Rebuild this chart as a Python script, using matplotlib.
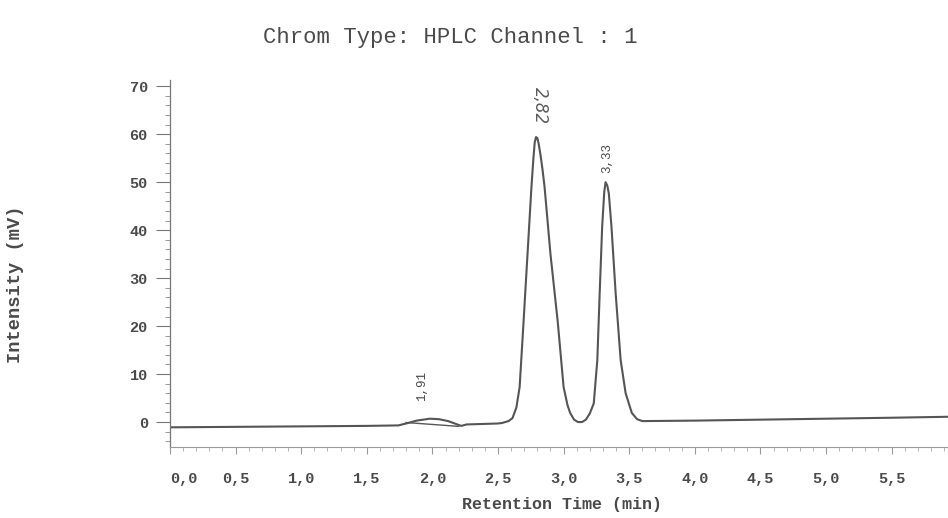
import matplotlib
matplotlib.use("Agg")
import matplotlib.pyplot as plt
from matplotlib.ticker import MultipleLocator, FuncFormatter

# trace: retention time (min) and intensity (mV)
time_min = [0.00, 0.50, 1.00, 1.50, 1.74, 1.80, 1.88, 1.98, 2.05, 2.12, 2.18, 2.22, 2.26,
            2.50, 2.53, 2.58, 2.61, 2.64, 2.665, 2.695, 2.725, 2.755, 2.77, 2.78, 2.79,
            2.80, 2.81, 2.825, 2.84, 2.855, 2.90, 2.955, 3.00, 3.03, 3.05, 3.08, 3.11,
            3.14, 3.17, 3.20, 3.23, 3.257, 3.275, 3.294, 3.31, 3.32, 3.333, 3.345, 3.365,
            3.397, 3.435, 3.473, 3.52, 3.56, 3.60, 4.00, 4.50, 5.00, 5.50, 5.93]
intensity = [-1.1, -1.0, -0.9, -0.8, -0.7, -0.3, 0.3, 0.7, 0.6, 0.2, -0.4, -0.8, -0.5,
             -0.3, -0.2, 0.2, 0.8, 3.0, 7.3, 21.0, 35.0, 49.0, 55.0, 58.3, 59.4,
             59.2, 58.0, 55.5, 52.5, 49.0, 35.0, 21.0, 7.3, 3.5, 1.9, 0.5, 0.0,
             0.0, 0.5, 1.8, 3.9, 12.9, 26.8, 40.7, 48.0, 50.0, 49.3, 47.6, 40.7,
             26.8, 12.9, 6.0, 1.9, 0.6, 0.2, 0.3, 0.5, 0.7, 0.9, 1.1]

# integration line under the small peak
drop_t = [1.80, 2.20]
drop_i = [-0.1, -0.9]

# peak labels
peak_labels = ["1,91", "3,33"]
peak_t = [1.92, 3.33]
peak_y = [7.5, 55.0]
hand_label = "2,82"
hand_t = 2.82
hand_y = 66.0

x_ticks = [0.0, 0.5, 1.0, 1.5, 2.0, 2.5, 3.0, 3.5, 4.0, 4.5, 5.0, 5.5]
y_ticks = [0, 10, 20, 30, 40, 50, 60, 70]

ink = "#4a4a4a"
mono = "Liberation Mono"

fig = plt.figure(figsize=(9.48, 5.18), dpi=100)
ax = fig.add_axes([170 / 948, 71 / 518, 1 - 170 / 948, 367 / 518])

ax.plot(time_min, intensity, color="#555555", lw=1.5, solid_joinstyle="round")
ax.plot(drop_t, drop_i, color="#555555", lw=1.0)

for lab, t, y in zip(peak_labels, peak_t, peak_y):
    ax.text(t, y, lab, rotation=90, ha="center", va="center", fontsize=9,
            family=mono, color=ink)
ax.text(hand_t, hand_y, hand_label, rotation=-90, ha="center", va="center",
        fontsize=12, family="DejaVu Sans", style="italic", color="#5a5a5a")

ax.set_xlim(0, 5.93)
ax.set_ylim(-5.2, 71.3)

ax.xaxis.set_minor_locator(MultipleLocator(0.1))
ax.yaxis.set_minor_locator(MultipleLocator(2))
ax.set_xticks(x_ticks)
ax.set_yticks(y_ticks)
ax.xaxis.set_major_formatter(FuncFormatter(lambda v, p: f"{v:.1f}".replace(".", ",")))

for side in ["top", "right"]:
    ax.spines[side].set_visible(False)
ax.spines["left"].set_color("#777777")
ax.spines["bottom"].set_color("#9a9a9a")
ax.spines["left"].set_linewidth(0.9)
ax.spines["bottom"].set_linewidth(0.8)

ax.tick_params(axis="y", which="major", length=10, width=0.8, color="#777777", pad=6)
ax.tick_params(axis="y", which="minor", length=3.5, width=0.6, color="#888888")
ax.tick_params(axis="x", which="major", length=5, width=0.8, color="#999999", pad=13)
ax.tick_params(axis="x", which="minor", length=3, width=0.6, color="#aaaaaa")

for lab in ax.get_xticklabels() + ax.get_yticklabels():
    lab.set_family(mono)
    lab.set_fontsize(11)
    lab.set_fontweight("bold")
    lab.set_color(ink)
ax.get_xticklabels()[0].set_horizontalalignment("left")

fig.text(450 / 948, 1 - 37 / 518, "Chrom Type: HPLC Channel : 1", ha="center",
         va="center", fontsize=16, family=mono, color=ink)
fig.text(562 / 948, 1 - 505 / 518, "Retention Time (min)", ha="center", va="center",
         fontsize=12, family=mono, fontweight="bold", color=ink)
fig.text(16 / 948, 1 - 284 / 518, "Intensity (mV)", rotation=90, ha="center",
         va="center", fontsize=13.5, family=mono, fontweight="bold", color=ink)

fig.savefig("out.png", dpi=100)
